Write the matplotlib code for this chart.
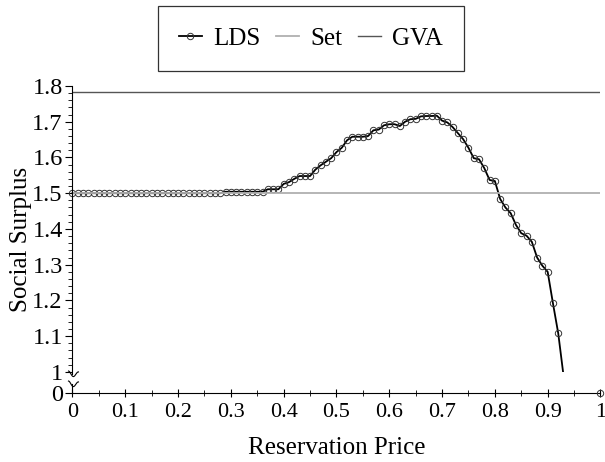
import matplotlib
matplotlib.use('Agg')
import matplotlib.pyplot as plt
import matplotlib.transforms as mtransforms
from matplotlib.patches import Rectangle
import numpy as np

plt.rcParams['font.family'] = ['Liberation Serif', 'DejaVu Serif']

# ---------------- data ----------------
price = [0.00, 0.01, 0.02, 0.03, 0.04, 0.05, 0.06, 0.07, 0.08, 0.09,
         0.10, 0.11, 0.12, 0.13, 0.14, 0.15, 0.16, 0.17, 0.18, 0.19,
         0.20, 0.21, 0.22, 0.23, 0.24, 0.25, 0.26, 0.27, 0.28, 0.29,
         0.30, 0.31, 0.32, 0.33, 0.34, 0.35, 0.36, 0.37, 0.38, 0.39,
         0.40, 0.41, 0.42, 0.43, 0.44, 0.45, 0.46, 0.47, 0.48, 0.49,
         0.50, 0.51, 0.52, 0.53, 0.54, 0.55, 0.56, 0.57, 0.58, 0.59,
         0.60, 0.61, 0.62, 0.63, 0.64, 0.65, 0.66, 0.67, 0.68, 0.69,
         0.70, 0.71, 0.72, 0.73, 0.74, 0.75, 0.76, 0.77, 0.78, 0.79,
         0.80, 0.81, 0.82, 0.83, 0.84, 0.85, 0.86, 0.87, 0.88, 0.89,
         0.90, 0.91, 0.92, 0.93]
lds = [1.500, 1.500, 1.500, 1.500, 1.500, 1.500, 1.500, 1.500, 1.500, 1.500,
       1.500, 1.500, 1.500, 1.500, 1.500, 1.500, 1.500, 1.500, 1.500, 1.500,
       1.500, 1.500, 1.500, 1.500, 1.500, 1.500, 1.500, 1.500, 1.500, 1.504,
       1.504, 1.504, 1.504, 1.504, 1.504, 1.504, 1.504, 1.511, 1.511, 1.511,
       1.526, 1.531, 1.540, 1.548, 1.548, 1.548, 1.566, 1.578, 1.588, 1.598,
       1.615, 1.627, 1.648, 1.658, 1.658, 1.658, 1.660, 1.676, 1.678, 1.690,
       1.693, 1.693, 1.688, 1.700, 1.707, 1.708, 1.715, 1.716, 1.716, 1.717,
       1.703, 1.698, 1.685, 1.668, 1.651, 1.627, 1.598, 1.595, 1.570, 1.537,
       1.534, 1.484, 1.460, 1.444, 1.411, 1.388, 1.381, 1.364, 1.320, 1.297,
       1.280, 1.192, 1.108, 0.990]
price_end = 1.0
lds_end = 0.0
set_value = 1.5
gva_value = 1.783

x_ticks = [0.0, 0.1, 0.2, 0.3, 0.4, 0.5, 0.6, 0.7, 0.8, 0.9, 1.0]
x_labels = ['0', '0.1', '0.2', '0.3', '0.4', '0.5', '0.6', '0.7', '0.8', '0.9', '1']
y_ticks = [1.0, 1.1, 1.2, 1.3, 1.4, 1.5, 1.6, 1.7, 1.8]
y_labels = ['1', '1.1', '1.2', '1.3', '1.4', '1.5', '1.6', '1.7', '1.8']

# ---------------- layout ----------------
Y_ZERO = 0.941          # where the value 0 sits below the axis break
BREAK_HI = 0.994
BREAK_LO = 0.966

fig = plt.figure(figsize=(6.05, 4.62), dpi=100)
ax = fig.add_axes([0.1198, 0.1494, 0.8727, 0.6645])
ax.set_xlim(0, 1)
ax.set_ylim(Y_ZERO, 1.8)

mk = dict(marker='o', ms=4.6, mfc='none', mec='#333333', mew=0.7)

line, = ax.plot(price, lds, color='black', lw=1.3, label='LDS',
                markevery=list(range(len(price) - 1)), **mk)
clip = Rectangle((-1, 1.0), 3, 1.0, transform=ax.transData)
line.set_clip_path(clip)

l_set = ax.axhline(set_value, color='#b0b0b0', lw=1.3, label='Set')
l_gva = ax.axhline(gva_value, color='#555555', lw=1.0, label='GVA')

ax.plot([price_end], [Y_ZERO + lds_end], ls='none', clip_on=False, zorder=5, **mk)

# ticks
ax.set_xticks(x_ticks)
ax.set_xticklabels(x_labels)
ax.set_xticks([0.05, 0.15, 0.25, 0.35, 0.45, 0.55, 0.65, 0.75, 0.85, 0.95], minor=True)
ax.set_yticks([Y_ZERO] + y_ticks)
ax.set_yticklabels(['0'] + y_labels)
ymin = [round(1.0 + 0.02 * i, 2) for i in range(1, 40) if i % 5 != 0]
ax.set_yticks(ymin, minor=True)
ax.tick_params(axis='x', which='major', labelsize=16)
ax.tick_params(axis='y', which='major', labelsize=17.5)
ax.tick_params(axis='both', which='major', width=0.8, color='black')
ax.tick_params(axis='y', which='major', direction='out', length=5, pad=2)
ax.tick_params(axis='y', which='minor', direction='out', length=3, width=0.6)
ax.tick_params(axis='x', which='major', direction='inout', length=6, pad=4)
ax.tick_params(axis='x', which='minor', direction='inout', length=5, width=0.6)

for s in ['top', 'right']:
    ax.spines[s].set_visible(False)
ax.spines['left'].set_bounds(BREAK_HI, 1.8)
ax.spines['left'].set_linewidth(0.8)
ax.spines['bottom'].set_linewidth(0.8)
ax.plot([0, 0], [Y_ZERO, BREAK_LO], color='black', lw=0.8, clip_on=False)

# break squiggles (in pixel space)
fig.canvas.draw()
for yb in (BREAK_HI, BREAK_LO):
    px, py = ax.transData.transform((0, yb))
    t = np.linspace(0, 1, 30)
    xs = px - 4 + 10 * t
    ys = py + 3.0 * np.sin(2 * np.pi * t + np.pi / 2) * (1 - 0.3 * t)
    fig.add_artist(plt.Line2D(xs, ys, color='black', lw=0.8,
                              transform=mtransforms.IdentityTransform()))

ax.set_xlabel('Reservation Price', fontsize=18, labelpad=11)
ax.set_ylabel('Social Surplus', fontsize=18)
ax.yaxis.set_label_coords(-0.077, 0.5)

leg = fig.legend(handles=[line, l_set, l_gva], labels=['LDS', 'Set', 'GVA'],
                 loc='center', bbox_to_anchor=(311 / 605, 1 - 38.5 / 462),
                 ncol=3, frameon=True, fancybox=False, edgecolor='black',
                 fontsize=18, handlelength=0.9, handletextpad=0.45,
                 columnspacing=0.65, borderpad=0.85, numpoints=1)
leg.get_frame().set_linewidth(0.9)

fig.savefig('out.png', dpi=100)
